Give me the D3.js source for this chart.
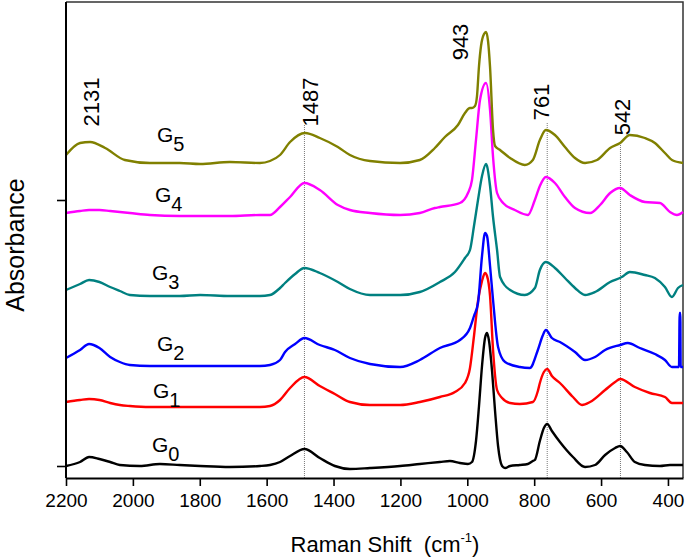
<!DOCTYPE html>
<html><head><meta charset="utf-8">
<script src="https://cdn.jsdelivr.net/npm/d3@7"></script>
<style>body{margin:0;background:#fff}svg{display:block}text{font-family:"Liberation Sans",Arial,sans-serif}</style>
</head><body><svg id="c" width="685" height="559"></svg>
<script>
// Raman shift (cm-1) vs absorbance (arbitrary units, vertically offset spectra)
const seriesNames = ["G0","G1","G2","G3","G4","G5"];
const seriesColors = ["#000000","#ff0000","#0000ff","#008080","#ff00ff","#808000"];
const G0 = [[2200,0],[2158,4],[2131,9],[2100,7],[2068,4],[2039,1],[1979,0],[1919,2],[1860,1],[1799,0],[1710,-1],[1620,0],[1590,1],[1560,4],[1530,10],[1487,17],[1441,8],[1396,0],[1351,-3],[1291,-2],[1201,0],[1142,2],[1082,4],[1052,5],[1022,3],[998,2],[986,4],[974,25],[965,60],[956,100],[947,128],[941,133],[935,125],[926,95],[917,55],[908,20],[896,0],[887,-2],[872,0],[843,1],[819,2],[804,5],[798,6],[783,25],[771,38],[761,42],[747,35],[723,24],[684,9],[648,-1],[618,1],[588,11],[558,18],[543,20],[523,14],[499,4],[469,1],[424,0],[394,1],[355,1]];
const G1 = [[2200,64],[2158,66],[2131,67],[2100,66],[2068,63],[2039,61],[2009,60],[1949,59],[1860,59],[1799,59],[1710,59],[1620,59],[1590,60],[1560,66],[1530,78],[1487,89],[1441,80],[1396,72],[1351,64],[1291,61],[1201,61],[1142,64],[1082,69],[1037,74],[1007,83],[992,98],[980,130],[968,165],[956,185],[947,193],[941,190],[932,170],[923,116],[911,76],[896,68],[872,63],[843,62],[804,64],[789,75],[783,83],[771,94],[761,97],[747,90],[723,83],[684,69],[657,61],[633,64],[588,76],[558,84],[543,87],[499,79],[454,73],[409,69],[388,63],[355,63]];
const G2 = [[2200,108],[2158,116],[2131,122],[2100,118],[2068,109],[2039,104],[2009,101],[1949,100],[1860,100],[1799,100],[1710,100],[1620,100],[1590,101],[1560,106],[1545,114],[1515,122],[1487,128],[1441,121],[1396,116],[1351,108],[1291,102],[1201,99],[1142,106],[1082,118],[1022,126],[992,138],[980,150],[968,163],[956,210],[947,233],[941,230],[932,200],[923,166],[908,119],[887,104],[843,99],[813,98],[789,116],[775,130],[765,136],[747,128],[723,124],[678,114],[648,106],[618,109],[588,116],[543,121],[520,123],[484,118],[439,112],[409,106],[388,99],[367,99],[365,153],[363,153],[362,99],[355,99]];
const G3 = [[2200,176],[2158,182],[2131,186],[2100,184],[2068,179],[2039,175],[2009,171],[1949,170],[1860,170],[1799,171],[1710,170],[1620,170],[1590,171],[1560,178],[1545,183],[1515,192],[1487,198],[1441,193],[1387,184],[1351,177],[1291,171],[1201,171],[1142,174],[1082,184],[1037,194],[1007,208],[992,216],[980,240],[968,266],[956,290],[944,302],[941,300],[932,280],[923,249],[911,216],[902,189],[872,176],[828,171],[798,178],[783,196],[765,204],[738,198],[708,188],[678,178],[648,171],[618,174],[573,184],[538,189],[514,194],[469,191],[439,188],[409,179],[388,169],[370,178],[355,181]];
const G4 = [[2200,253],[2158,255],[2131,256],[2100,256],[2068,255],[2009,253],[1949,251],[1860,250],[1799,250],[1710,250],[1620,251],[1590,251],[1560,259],[1530,269],[1487,283],[1441,276],[1387,261],[1351,256],[1291,253],[1201,251],[1142,253],[1097,258],[1082,259],[1022,263],[998,273],[986,286],[974,326],[962,366],[944,383],[932,356],[923,309],[911,273],[893,263],[858,256],[819,251],[798,266],[783,280],[765,289],[738,283],[708,269],[678,258],[633,253],[603,261],[573,273],[543,278],[514,271],[469,264],[424,263],[394,254],[373,251],[355,254]];
const G5 = [[2200,311],[2158,323],[2128,324],[2083,318],[2024,306],[1949,303],[1860,303],[1799,302],[1710,304],[1620,303],[1590,305],[1560,311],[1530,324],[1485,333],[1441,328],[1387,319],[1351,311],[1291,305],[1201,303],[1142,306],[1097,318],[1067,329],[1028,341],[1007,353],[992,358],[986,358],[977,360],[971,370],[965,400],[959,420],[950,432],[944,434],[938,425],[932,399],[923,336],[917,320],[902,316],[872,308],[828,301],[804,306],[783,326],[765,336],[738,331],[708,319],[678,308],[648,303],[612,306],[573,318],[543,323],[514,331],[469,328],[439,323],[409,313],[388,306],[355,303]];
const seriesData = [G0,G1,G2,G3,G4,G5];
const xTicks = [2200,2000,1800,1600,1400,1200,1000,800,600,400];
const xMinorTicks = d3.range(2200, 354, -100);
const yMajorTicks = [0, 266];
const yMinorTicks = [133, 399];
const peakLabels = [2131, 1487, 943, 761, 542];
const peakLines = [1487, 761, 542];

// layout (pixels)
const L = {left:66, right:683, top:2, bottom:478};
const svg = d3.select("#c");
const x = d3.scaleLinear().domain([2200, 355]).range([L.left, L.right]);
const y = d3.scaleLinear().domain([-12, 464]).range([L.bottom, L.top]);

// frame top/right
svg.append("path").attr("d",`M${L.left},${L.top}H${L.right}V${L.bottom}`)
  .attr("fill","none").attr("stroke","#333").attr("stroke-width",1.5);

// guide lines
const lineTops = {1487:125, 761:123, 542:145};
svg.append("g").selectAll("line").data(peakLines).join("line")
  .attr("x1",d=>x(d)).attr("x2",d=>x(d))
  .attr("y1",d=>lineTops[d]).attr("y2",L.bottom)
  .attr("stroke","#555").attr("stroke-width",0.8).attr("stroke-dasharray","1,1");

// curves
const line = d3.line().x(d=>x(d[0])).y(d=>y(d[1])).curve(d3.curveMonotoneX);
svg.append("g").selectAll("path").data(seriesData).join("path")
  .attr("d",line).attr("fill","none")
  .attr("stroke",(d,i)=>seriesColors[i]).attr("stroke-width",2.4)
  .attr("stroke-linejoin","round");

// x axis
const gx = svg.append("g").attr("transform",`translate(0,${L.bottom})`);
gx.call(d3.axisBottom(x).tickValues(xMinorTicks).tickSize(4).tickSizeOuter(0).tickFormat(""));
gx.call(d3.axisBottom(x).tickValues(xTicks).tickSize(8).tickSizeOuter(0).tickPadding(8).tickFormat(d3.format("d")));
gx.selectAll(".domain").attr("stroke","#000").attr("stroke-width",2);
gx.selectAll(".tick line").attr("stroke","#000").attr("stroke-width",1.6);
gx.selectAll(".tick text").attr("font-size",19).attr("font-family","'Liberation Sans',Arial,sans-serif").attr("fill","#000");

// y axis
const gy = svg.append("g").attr("transform",`translate(${L.left},0)`);
gy.call(d3.axisLeft(y).tickValues(yMinorTicks).tickSize(5).tickSizeOuter(0).tickFormat(""));
gy.call(d3.axisLeft(y).tickValues(yMajorTicks).tickSize(9).tickSizeOuter(0).tickFormat(""));
gy.selectAll(".domain").attr("d",`M0,${L.top}V${L.bottom}`).attr("stroke","#000").attr("stroke-width",2);
gy.selectAll(".tick line").attr("stroke","#000").attr("stroke-width",1.6);

// axis titles
const xt = svg.append("text").attr("x",385).attr("y",552).attr("text-anchor","middle").attr("font-size",22);
xt.append("tspan").text("Raman Shift\u00a0 (cm");
xt.append("tspan").attr("font-size",13).attr("dy",-10).text("-1");
xt.append("tspan").attr("dy",10).text(")");
svg.append("text").attr("transform","translate(15,245) rotate(-90)").attr("text-anchor","middle")
  .attr("dy","0.35em").attr("font-size",25).text("Absorbance");

// peak labels
const peakPos = {2131:[91,102],1487:[310,102],943:[460,42],761:[541,102],542:[622,117]};
svg.append("g").selectAll("text").data(peakLabels).join("text")
  .attr("transform",d=>`translate(${peakPos[d][0]},${peakPos[d][1]}) rotate(-90)`)
  .attr("text-anchor","middle").attr("dy","0.35em").attr("font-size",22).text(d=>d);

// series labels
const gPos = [[152,452],[153,398],[157,351],[152,280],[155,202],[157,142]];
seriesNames.forEach((n,i)=>{
  const t = svg.append("text").attr("x",gPos[i][0]).attr("y",gPos[i][1]).attr("font-size",21);
  t.append("tspan").text(n[0]);
  t.append("tspan").attr("dy",9).attr("font-size",20).text(n.slice(1));
});
</script></body></html>
